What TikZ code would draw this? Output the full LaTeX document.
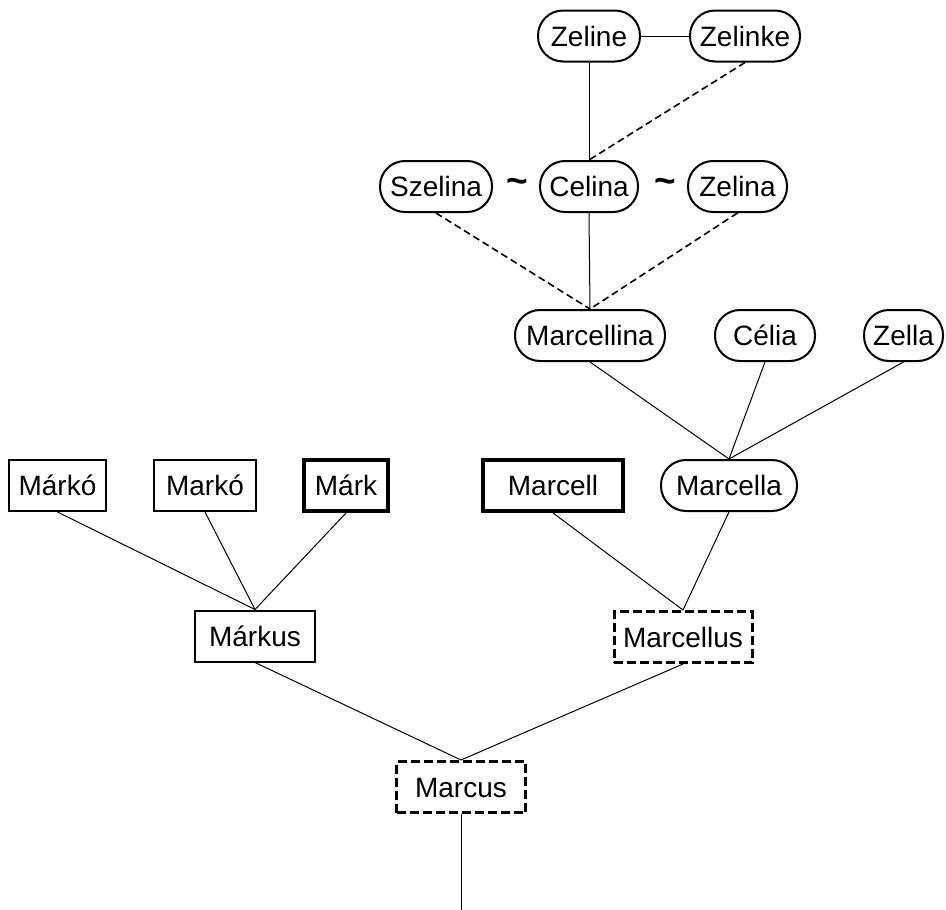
\documentclass[tikz,border=0pt]{standalone}
\usepackage{fontspec}
\setmainfont{Liberation Sans}
\begin{document}
\begin{tikzpicture}[x=1pt,y=-1pt,
  base/.style={inner sep=0pt, minimum height=51pt, text height=21pt, text depth=1pt,
    font=\fontsize{28}{33}\selectfont},
  pill/.style={base, draw, line width=2pt, rounded corners=25pt},
  boxn/.style={base, draw, line width=2pt},
  thickbox/.style={base, draw, line width=4pt},
  dashbox/.style={base, draw, line width=3pt, dash pattern=on 9pt off 4pt},
  link/.style={line width=1pt},
  dlink/.style={line width=1.6pt, dash pattern=on 7pt off 4pt},
  tilde/.style={inner sep=0pt, font=\fontsize{37}{40}\selectfont\bfseries}
]
\useasboundingbox (0,0) rectangle (946,910);

% top row
\node[pill, minimum width=102pt] (zeline) at (589,36) {Zeline};
\node[pill, minimum width=110pt] (zelinke) at (745,36) {Zelinke};

% second row
\node[pill, minimum width=112pt] (szelina) at (436,186.5) {Szelina};
\node[pill, minimum width=98pt] (celina) at (589,186.5) {Celina};
\node[pill, minimum width=99pt] (zelina) at (737.5,186.5) {Zelina};
\node[tilde] (t1) at (517,186) {\symbol{126}};
\node[tilde] (t2) at (665,186) {\symbol{126}};

% third row
\node[pill, minimum width=150pt] (marcellina) at (590,335.5) {Marcellina};
\node[pill, minimum width=100pt] (celia) at (765,335.5) {Célia};
\node[pill, minimum width=79pt] (zella) at (903.5,335.5) {Zella};

% fourth row
\node[boxn, minimum width=97pt] (marko1) at (57.5,485.5) {Márkó};
\node[boxn, minimum width=102pt] (marko2) at (205,485.5) {Markó};
\node[thickbox, minimum width=84pt] (mark) at (346,485.5) {Márk};
\node[thickbox, minimum width=140pt] (marcell) at (553,485.5) {Marcell};
\node[pill, minimum width=136pt] (marcella) at (729,485.5) {Marcella};

% fifth row
\node[boxn, minimum width=120pt] (markus) at (255,636) {Márkus};
\node[dashbox, minimum width=138pt] (marcellus) at (683,637) {Marcellus};

% root
\node[dashbox, minimum width=129pt] (marcus) at (461,787) {Marcus};
\coordinate (rootend) at (461,910);

% connectors
\draw[link] (zeline.east) -- (zelinke.west);
\draw[link] (zeline.south) -- (celina.north);
\draw[dlink] (zelinke.south) -- (celina.north);

\draw[dlink] (szelina.south) -- (marcellina.north);
\draw[link] (celina.south) -- (marcellina.north);
\draw[dlink] (zelina.south) -- (marcellina.north);

\draw[link] (marcellina.south) -- (marcella.north);
\draw[link] (celia.south) -- (marcella.north);
\draw[link] (zella.south) -- (marcella.north);

\draw[link] (marko1.south) -- (markus.north);
\draw[link] (marko2.south) -- (markus.north);
\draw[link] (mark.south) -- (markus.north);

\draw[link] (marcell.south) -- (marcellus.north);
\draw[link] (marcella.south) -- (marcellus.north);

\draw[link] (markus.south) -- (marcus.north);
\draw[link] (marcellus.south) -- (marcus.north);

\draw[link] (marcus.south) -- (rootend);
\end{tikzpicture}
\end{document}
